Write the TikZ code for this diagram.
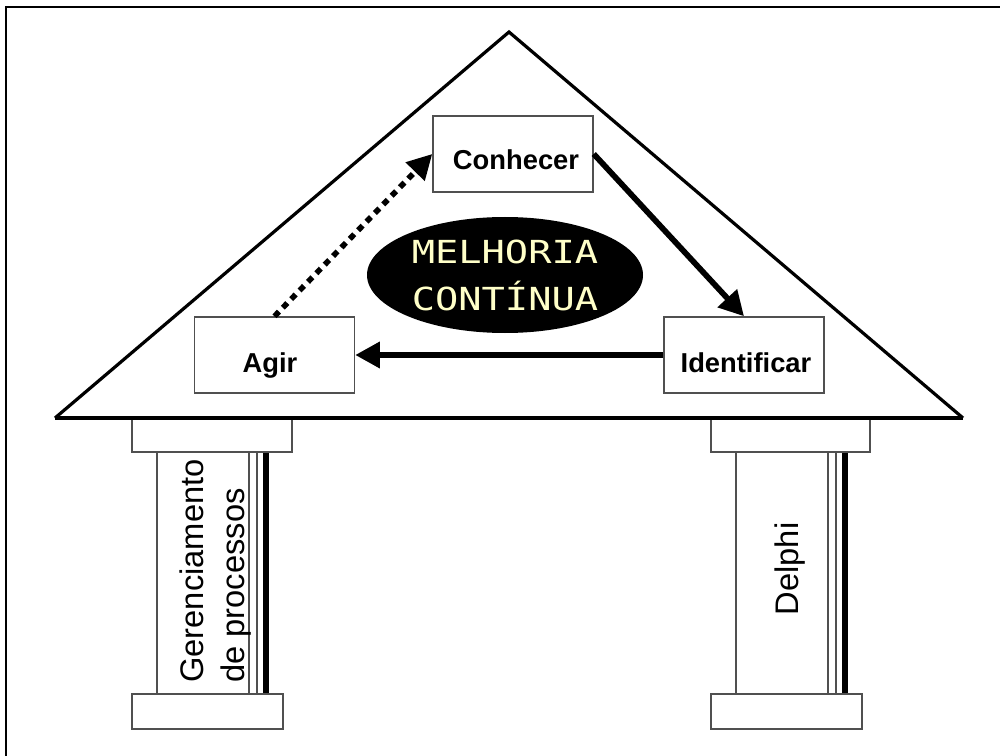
\documentclass[tikz,border=0pt]{standalone}
\usepackage{fontspec}
\usetikzlibrary{arrows.meta,shapes.geometric}
\newfontfamily\arialf{Liberation Sans}
\newfontfamily\monof[FakeStretch=1.22]{DejaVu Sans Mono}
\definecolor{paleyellow}{HTML}{FFFFC8}
\definecolor{edgegray}{HTML}{505050}
\begin{document}
\begin{tikzpicture}[x=0.75pt,y=-0.75pt,
  frameline/.style={line width=1.1pt, draw=black},
  roofline/.style={line width=2.4pt, line join=miter, line cap=butt},
  pillarline/.style={draw=edgegray, line width=1.1pt},
  thickline/.style={draw=black, line width=4.5pt},
  stepbox/.style={draw=edgegray, line width=1.1pt, rectangle, minimum width=120pt, minimum height=57pt, inner sep=0pt, fill=white},
  boxlabel/.style={font=\arialf\bfseries\fontsize{20.5}{24}\selectfont, inner sep=0pt, anchor=base},
  pillartext/.style={font=\arialf\fontsize{24.5}{30}\selectfont, inner sep=0pt, rotate=90},
  flow/.style={line width=4.3pt, -{Triangle[length=18.5pt,width=19pt]}},
  dotflow/.style={line width=4.2pt, dash pattern=on 4.8pt off 4.2pt, -{Triangle[length=18.5pt,width=19pt]}},
]
\useasboundingbox (0,0) rectangle (1000,756);
% outer frame (only top and left edges visible)
\draw[frameline] (1000,7) -- (6,7) -- (6,756);

% left pillar
\draw[pillarline, fill=white] (157,452) rectangle (249,694);
\draw[pillarline] (257,452) -- (257,694);
\draw[thickline] (266,452) -- (266,694);
\draw[pillarline, fill=white] (132,418) rectangle (292,452);
\draw[pillarline, fill=white] (132,694) rectangle (283,729);
\node[pillartext, anchor=base west] (g1) at (203,683) {Gerenciamento};
\node[pillartext, anchor=base west] (g2) at (244,683) {de processos};

% right pillar
\draw[pillarline, fill=white] (736,452) rectangle (828,694);
\draw[pillarline] (836,452) -- (836,694);
\draw[thickline] (845,452) -- (845,694);
\draw[pillarline, fill=white] (711,418) rectangle (870,452);
\draw[pillarline, fill=white] (711,694) rectangle (862,729);
\node[pillartext, anchor=base] (dl) at (798,569) {Delphi};

% roof
\draw[roofline] (55,418) -- (509,32) -- (963,418);
\draw[line width=3pt] (55,418) -- (963,418);

% boxes
\node[stepbox] (con) at (513,154) {};
\node[stepbox] (agi) at (274.5,355) {};
\node[stepbox] (ide) at (744,355) {};
\node[boxlabel] (conl) at (516,170) {Conhecer};
\node[boxlabel] (agil) at (270,372) {Agir};
\node[boxlabel] (idel) at (746,372) {Identificar};

% ellipse
\node[ellipse, fill=black, minimum width=207pt, minimum height=87pt, inner sep=0pt,
      text=paleyellow, align=center, font=\monof\fontsize{23.8}{35.25}\selectfont]
      (mel) at (505,275) {MELHORIA\\CONTÍNUA};

% arrows
\draw[flow] (con.east) -- (ide.north);
\draw[flow] (ide.west) -- (agi.east);
\draw[dotflow] (agi.north) -- (con.west);
\end{tikzpicture}
\end{document}
